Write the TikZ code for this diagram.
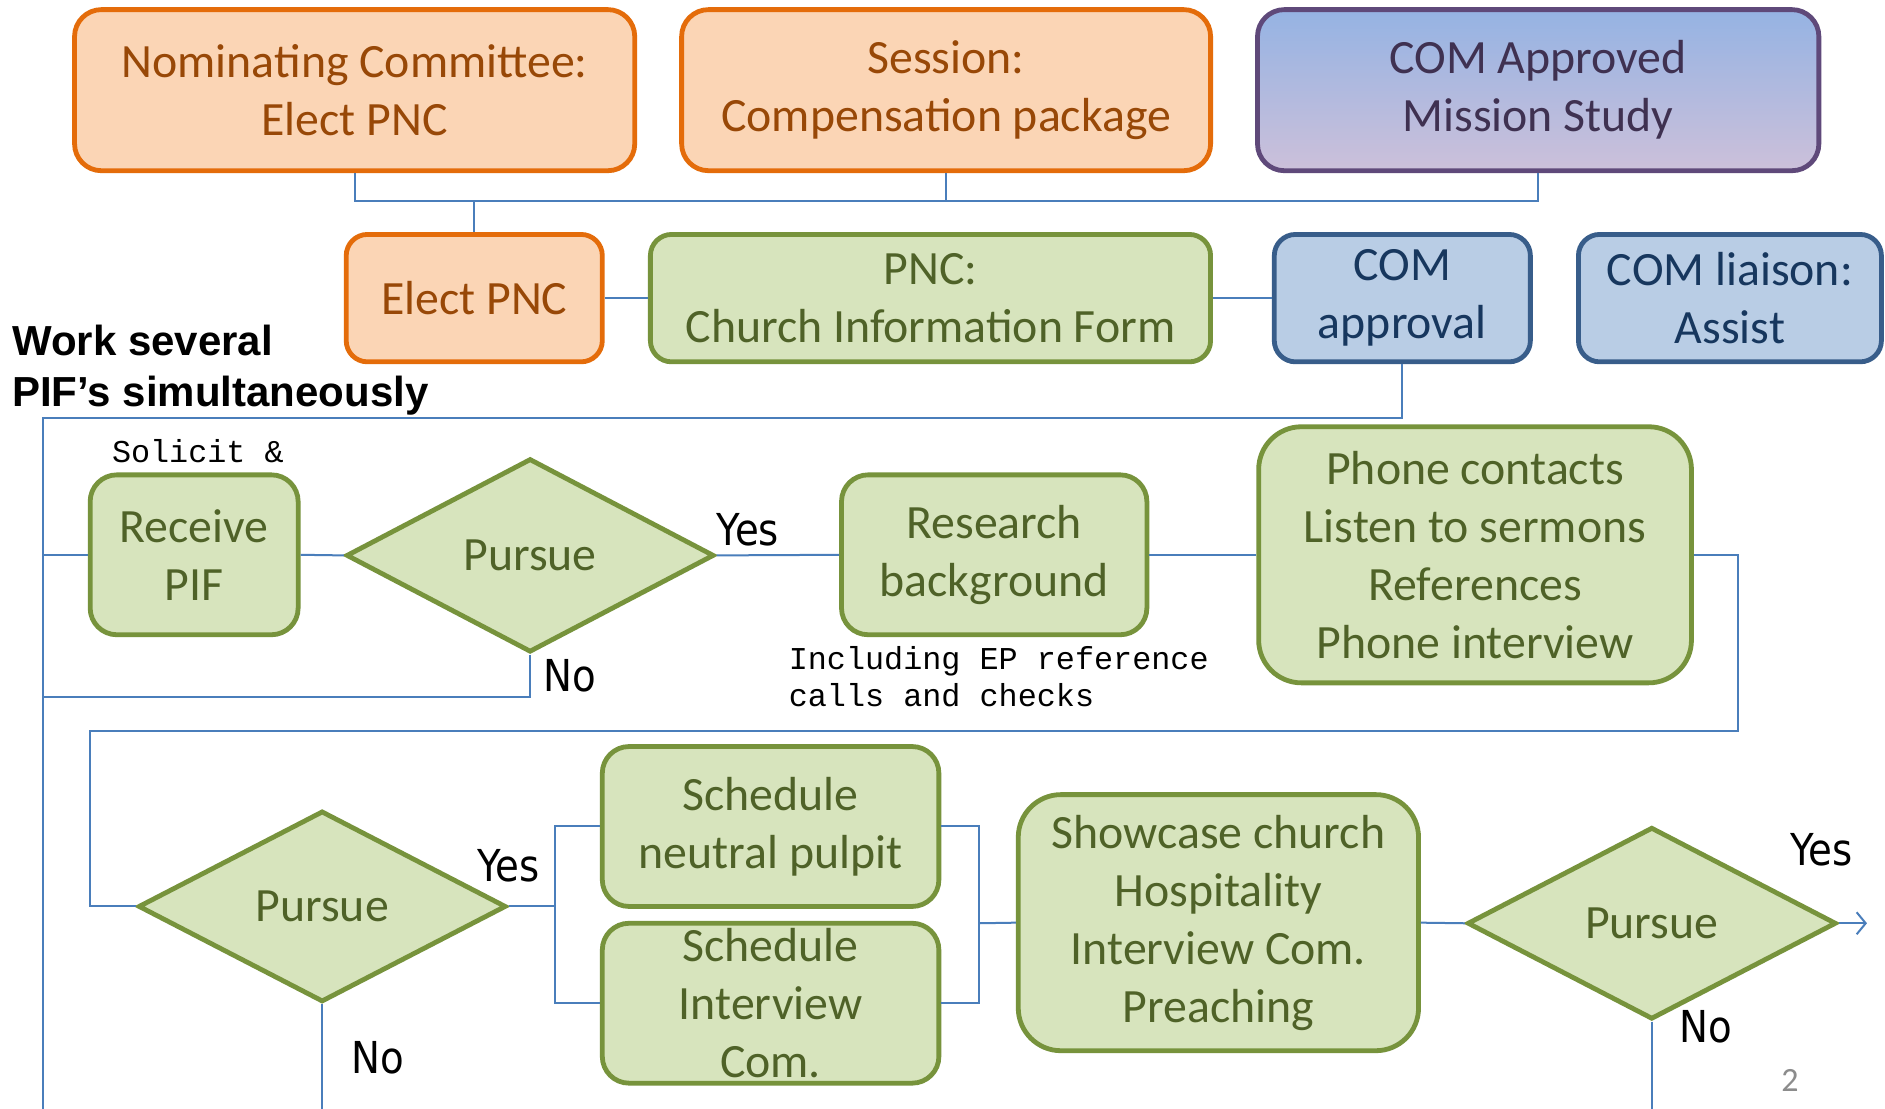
\documentclass[tikz,border=0pt]{standalone}
\usepackage{fontspec}
\setmainfont{Carlito}
\newfontfamily\yesfont{DejaVu Sans}[FakeStretch=0.88]
\newfontfamily\arialf{Liberation Sans}
\newfontfamily\monof{Liberation Mono}
\usetikzlibrary{shapes.geometric,arrows.meta}
\definecolor{ofill}{HTML}{FBD5B5}
\definecolor{oline}{HTML}{E46C0A}
\definecolor{otext}{HTML}{984807}
\definecolor{gfill}{HTML}{D7E4BD}
\definecolor{gline}{HTML}{77933C}
\definecolor{gtext}{HTML}{4F6228}
\definecolor{bfill}{HTML}{B9CDE5}
\definecolor{bline}{HTML}{385D8A}
\definecolor{btext}{HTML}{17375E}
\definecolor{mtop}{HTML}{95B3E3}
\definecolor{mbot}{HTML}{CCC0DA}
\definecolor{mline}{HTML}{5F497A}
\definecolor{mtext}{HTML}{3F3151}
\definecolor{cline}{HTML}{4A7EBB}
\definecolor{pgnum}{HTML}{8C8C8C}
\tikzset{
  boxbase/.style={rectangle, line width=4.8pt, inner sep=0pt, align=center,
    font=\fontsize{47.8}{58}\selectfont},
  sz/.style 2 args={minimum width=#1, minimum height=#2},
  obox/.style={boxbase, draw=oline, fill=ofill, text=otext},
  gbox/.style={boxbase, draw=gline, fill=gfill, text=gtext},
  bbox/.style={boxbase, draw=bline, fill=bfill, text=btext},
  mbox/.style={boxbase, draw=mline, top color=mtop, bottom color=mbot, text=mtext},
  dia/.style={diamond, draw=gline, fill=gfill, text=gtext, line width=4.8pt, inner sep=0pt,
    font=\fontsize{47.8}{58}\selectfont},
  conn/.style={draw=cline, line width=2pt},
  yn/.style={font=\yesfont\fontsize{44}{50}\selectfont, text=black, inner sep=0pt},
  mono/.style={font=\monof\fontsize{31.8}{37}\selectfont, text=black, inner sep=0pt, align=left},
}
\begin{document}
\begin{tikzpicture}[x=1.2022pt,y=-1.2022pt]
\fill[white] (0,0) rectangle (1568,922.5);
\useasboundingbox (0,0) rectangle (1568,922.5);

% top row
\node[obox, sz={560.2pt}{161.1pt}, rounded corners=26.9pt] (nc) at (295,75) {Nominating Committee:\\Elect PNC};
\node[obox, sz={529.0pt}{161.1pt}, rounded corners=26.9pt] (ses) at (787,75) {Session:\\Compensation package};
\node[mbox, sz={561.4pt}{161.1pt}, rounded corners=26.9pt] (mis) at (1279.5,75) {COM Approved\\Mission Study};

% second row
\node[obox, sz={256.1pt}{127.4pt}, rounded corners=21.2pt] (epnc) at (394.5,248) {Elect PNC};
\node[gbox, sz={560.2pt}{127.4pt}, rounded corners=21.2pt] (cif) at (774,248) {PNC:\\Church Information Form};
\node[bbox, sz={256.1pt}{127.4pt}, rounded corners=21.2pt] (comap) at (1166.5,248) {COM\\approval};
\node[bbox, sz={303.0pt}{127.4pt}, rounded corners=21.2pt] (liaison) at (1439,248) {COM liaison:\\Assist};

\node[font=\arialf\bfseries\fontsize{42}{50.5}\selectfont, align=left, anchor=west, inner sep=0pt]
  (work) at (10,308) {Work several\\PIF’s simultaneously};

% third row
\node[gbox, sz={208.0pt}{159.9pt}, rounded corners=26.7pt] (recv) at (161.5,461.5) {Receive\\PIF};
\node[dia, minimum width=367.9pt, minimum height=193.6pt] (pur1) at (441,462) {Pursue};
\node[gbox, sz={305.4pt}{159.9pt}, rounded corners=26.7pt] (res) at (827,461.5) {Research\\background\rule{0pt}{0pt}};
\node[gbox, sz={432.8pt}{256.1pt}, rounded corners=42.7pt] (phone) at (1227,461.5) {Phone contacts\\Listen to sermons\\References\\Phone interview};
\node[mono, anchor=west] (sol) at (93,375) {Solicit \&};
\node[mono, anchor=west] (incl) at (656,562.5) {Including EP reference\\calls and checks};
\node[yn] (yes1) at (622,441) {Yes};
\node[yn] (no1) at (474,562) {No};

% fourth row
\node[dia, minimum width=367.9pt, minimum height=191pt] (pur2) at (268,754) {Pursue};
\node[gbox, sz={336.6pt}{159.9pt}, rounded corners=26.7pt] (snp) at (641,687.5) {Schedule\\neutral pulpit};
\node[gbox, sz={336.6pt}{159.9pt}, rounded corners=26.7pt] (sic) at (641,834.5) {Schedule\\Interview\\Com.};
\node[gbox, sz={400.3pt}{256.1pt}, rounded corners=42.7pt] (show) at (1013.5,767.5) {Showcase church\\Hospitality\\Interview Com.\\Preaching};
\node[dia, minimum width=369pt, minimum height=192pt] (pur3) at (1374,768) {Pursue};
\node[yn] (yes2) at (423,720) {Yes};
\node[yn] (no2) at (314,880) {No};
\node[yn] (yes3) at (1515,707) {Yes};
\node[yn] (no3) at (1419,854) {No};
\node[font=\fontsize{34}{38}\selectfont, text=pgnum, inner sep=0pt] (pg) at (1489,899) {2};

% helper coordinates
\coordinate (bus) at (0,167);
\coordinate (lx) at (36,348);
\coordinate (lbot) at (36,923);
\coordinate (nox) at (36,580);
\coordinate (r1) at (1446,608);
\coordinate (r2) at (75,608);
\coordinate (bot) at (0,923);
\coordinate (sp1) at (462,754);
\coordinate (sp2) at (814,768);
\coordinate (arr) at (1553,768);

% connectors
\draw[conn] (nc.south) -- (nc.south |- bus) -- (mis.south |- bus) -- (mis.south);
\draw[conn] (ses.south) -- (ses.south |- bus);
\draw[conn] (epnc.north) -- (epnc.north |- bus);
\draw[conn] (epnc.east) -- (cif.west);
\draw[conn] (cif.east) -- (comap.west);
\draw[conn] (comap.south) |- (lx) -- (lbot);
\draw[conn] (recv.west) -- (recv.west -| lx);
\draw[conn] (pur1.south) |- (nox);
\draw[conn] (recv.east) -- (pur1.west);
\draw[conn] (pur1.east) -- (res.west);
\draw[conn] (res.east) -- (phone.west);
\draw[conn] (phone.east) -| (r1) -- (r2) |- (pur2.west);
\draw[conn] (pur2.south) -- (pur2.south |- bot);
\draw[conn] (pur2.east) -- (sp1);
\draw[conn] (snp.west) -| (sp1) |- (sic.west);
\draw[conn] (snp.east) -| (sp2) |- (sic.east);
\draw[conn] (sp2) -- (show.west);
\draw[conn] (show.east) -- (pur3.west);
\draw[conn, -{Straight Barb[length=9pt,width=22pt,line width=2pt]}] (pur3.east) -- (arr);
\draw[conn] (pur3.south) -- (pur3.south |- bot);
\end{tikzpicture}
\end{document}
